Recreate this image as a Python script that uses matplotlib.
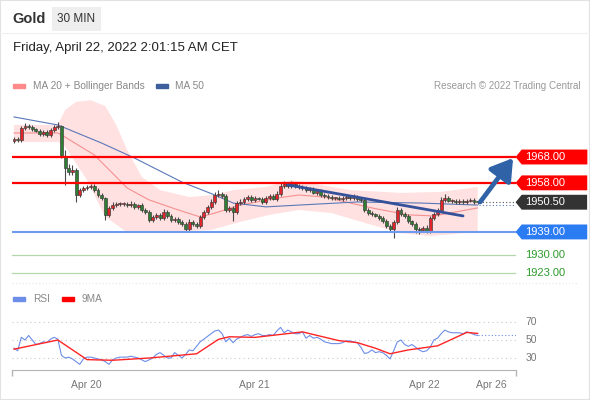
import numpy as np
import matplotlib
matplotlib.use('Agg')
import matplotlib.pyplot as plt
from matplotlib.path import Path
from matplotlib.patches import Rectangle
from matplotlib.lines import Line2D

plt.rcParams['font.family'] = ['Liberation Sans', 'DejaVu Sans']

# --- price data (30 min bars) ---
first_open = 1974.2
closes = [1975.0, 1974.6, 1979.2, 1980.0, 1979.6, 1978.8, 1978.1, 1976.9, 1977.7, 1976.5, 1978.4, 1979.6, 1980.0,
          1968.4, 1963.7, 1962.2, 1963.0, 1953.3, 1955.2, 1956.0, 1956.4, 1956.8, 1955.2, 1953.3, 1952.1,
          1945.5, 1948.3, 1949.4, 1949.8, 1949.8, 1949.8, 1949.4, 1949.8, 1948.7, 1949.4, 1947.5, 1946.7,
          1943.6, 1944.8, 1945.6, 1944.4, 1946.7, 1945.2, 1943.6, 1944.0, 1942.9, 1942.1, 1940.2, 1942.9,
          1942.1, 1941.3, 1944.8, 1946.7, 1948.7, 1950.6, 1953.3, 1953.7, 1952.9, 1947.5, 1948.3, 1946.7,
          1950.2, 1950.6, 1951.8, 1952.5, 1951.4, 1952.1, 1951.8, 1950.6, 1952.1, 1952.9, 1951.8, 1953.7,
          1956.8, 1957.6, 1956.8, 1957.6, 1956.8, 1956.4, 1956.0, 1955.2, 1955.6, 1954.1, 1954.9, 1953.3,
          1952.9, 1952.5, 1952.1, 1952.1, 1951.8, 1952.1, 1952.5, 1952.1, 1952.5, 1951.8, 1951.4, 1947.5,
          1946.3, 1945.9, 1945.2, 1944.4, 1943.2, 1941.3, 1940.2, 1942.9, 1947.5, 1945.9, 1945.2, 1943.2,
          1942.1, 1940.2, 1939.8, 1940.5, 1939.4, 1944.4, 1945.9, 1947.5, 1951.4, 1952.1, 1951.0, 1951.0,
          1950.6, 1951.0, 1950.6, 1951.0, 1951.4, 1950.6, 1950.5]
upper_wick = [0.8, 0.6, 0.9, 1.0, 0.7, 0.8, 0.6, 0.9, 0.7, 0.8, 1.0, 0.9, 1.5,
              0.5, 2.5, 1.5, 2.0, 0.8, 1.0, 0.7, 0.9, 0.6, 0.8, 0.7, 0.9,
              0.6, 0.8, 1.0, 0.7, 0.9, 0.6, 0.8, 1.2, 0.7, 0.6, 0.9, 0.8,
              0.6, 0.9, 0.7, 0.8, 1.1, 0.6, 0.7, 0.9, 0.8, 0.6, 0.7, 1.0,
              0.8, 0.6, 0.7, 0.9, 0.8, 1.0, 1.2, 1.4, 0.6, 0.9, 0.8, 0.7,
              0.9, 1.0, 0.8, 0.7, 0.9, 0.8, 0.6, 0.7, 1.0, 0.8, 0.9, 1.0,
              1.6, 1.2, 0.8, 1.0, 0.7, 0.9, 0.8, 0.6, 0.9, 0.7, 0.8, 0.6,
              0.9, 0.7, 0.8, 0.6, 0.7, 0.9, 0.8, 0.6, 1.0, 0.7, 0.8, 0.6,
              0.7, 0.9, 0.6, 0.8, 0.7, 0.9, 0.6, 0.8, 1.2, 0.9, 0.7, 0.8,
              0.6, 0.9, 0.7, 0.8, 1.0, 0.9, 0.7, 0.8, 1.1, 1.4, 0.9, 0.7,
              0.8, 0.6, 0.9, 0.7, 0.8, 0.6, 0.5]
lower_wick = [0.7, 0.9, 0.6, 0.8, 0.7, 0.9, 0.6, 0.8, 0.7, 0.6, 0.8, 0.7, 0.6,
              0.6, 6.5, 1.2, 1.0, 2.7, 0.8, 0.9, 0.7, 0.6, 0.8, 0.7, 0.9,
              1.9, 0.7, 0.8, 0.6, 0.9, 0.7, 0.8, 0.6, 0.7, 0.9, 0.8, 0.6,
              0.9, 0.7, 0.8, 0.6, 0.9, 0.7, 0.8, 0.6, 0.7, 0.9, 1.2, 0.8,
              0.7, 0.9, 0.6, 0.8, 0.7, 0.9, 0.6, 0.8, 0.7, 0.6, 0.9, 3.5,
              0.7, 0.8, 0.6, 0.9, 0.7, 0.8, 0.6, 0.7, 0.9, 0.8, 0.6, 0.7,
              0.8, 0.6, 0.9, 0.7, 0.8, 0.6, 0.7, 0.9, 0.8, 0.6, 0.7, 0.8,
              0.6, 0.9, 0.7, 0.8, 0.6, 0.7, 0.9, 0.8, 0.6, 0.7, 0.8, 0.9,
              0.7, 0.8, 0.6, 0.9, 0.7, 0.8, 1.2, 3.5, 0.9, 0.7, 0.8, 0.6,
              0.9, 1.5, 1.5, 0.8, 1.0, 0.7, 0.9, 0.6, 0.8, 0.7, 0.6, 0.8,
              0.7, 0.6, 0.8, 0.7, 0.6, 0.7, 0.5]

# indicators (sampled along the bars)
ma20_idx = [0, 12, 14, 22, 28, 31, 37, 45, 51, 55, 62, 72, 78, 85, 98, 108, 115, 127]
ma20 = [1977.3, 1977.3, 1975.7, 1968.8, 1960.3, 1956.0, 1951.4, 1947.5, 1944.8, 1946.3,
        1949.4, 1952.1, 1953.3, 1952.5, 1948.3, 1945.6, 1945.2, 1948.3]
ma50_idx = [0, 12, 24, 33, 46, 55, 60, 69, 78, 94, 111, 127]
ma50 = [1983.5, 1980.4, 1973.4, 1967.6, 1958.3, 1953.3, 1950.2, 1948.7, 1949.4, 1950.6, 1950.2, 1949.4]
bb_upper_idx = [0, 12, 14, 17, 21, 25, 28, 31, 35, 40, 48, 55, 60, 69, 76, 84, 92, 106, 117, 127]
bb_upper = [1980.4, 1980.4, 1986.2, 1989.3, 1990.0, 1987.7, 1980.4, 1970.7, 1960.3, 1955.2,
            1952.5, 1953.3, 1955.2, 1956.4, 1959.1, 1957.2, 1955.2, 1954.1, 1954.5, 1956.4]
bb_lower_idx = [0, 12, 14, 20, 25, 31, 43, 54, 62, 70, 78, 87, 98, 106, 114, 127]
bb_lower = [1973.8, 1973.8, 1972.0, 1959.1, 1944.8, 1938.9, 1939.0, 1939.8, 1942.9, 1945.6,
            1947.5, 1946.3, 1941.7, 1938.6, 1937.4, 1939.0]

trend_idx = [75, 123]
trend_price = [1957.2, 1945.2]
forecast_start = (127.7, 1950.6)
forecast_end = (136.7, 1967.6)

resistances = [1968.0, 1958.0]
pivot = 1939.0
supports = [1930.0, 1923.0]
last_price = 1950.5

# RSI panel
rsi = [41, 38, 53, 50, 55, 50, 45, 46, 48, 47, 51, 53, 51, 33, 30, 31, 29, 26, 23, 29,
       31, 31, 30, 29, 28, 26, 23, 28, 30, 31, 31, 31, 32, 31, 30, 28, 26, 28, 30, 34,
       36, 33, 30, 30, 36, 33, 30, 34, 39, 38, 43, 48, 51, 54, 57, 60, 61, 57, 48, 52,
       47, 51, 53, 55, 56, 54, 56, 57, 55, 55, 56, 55, 60, 64, 58, 61, 59, 57, 57, 59,
       52, 55, 52, 53, 51, 48, 47, 46, 46, 46, 47, 49, 49, 48, 47, 42, 35, 36, 39, 36,
       37, 36, 33, 29, 38, 48, 50, 45, 43, 45, 42, 39, 37, 38, 42, 50, 52, 57, 61, 59,
       58, 58, 58, 57, 59, 58, 56, 55]
rsi_ma_idx = [0, 12, 20, 27, 37, 50, 56, 59, 66, 79, 89, 94, 99, 103, 108, 116, 124, 127]
rsi_ma = [39.8, 50.0, 28.2, 27.5, 30.0, 34.7, 50.7, 53.6, 52.9, 59.0, 49.3, 47.1, 40.9,
          34.7, 39.0, 43.5, 58.4, 57.3]
rsi_levels = [30, 50, 70]

date_ticks = [19.7, 65.8, 112.3, 130.7]
date_labels = ['Apr 20', 'Apr 21', 'Apr 22', 'Apr 26']

W, H = 590, 400
XMIN, XMAX = -0.55, 137.5


def fx(x):
    return x / W


def fy(y):
    return 1 - y / H


def tag_box(x0, y0, width, height, mutation_size):
    # price tag with a pointed left side
    m = mutation_size
    left = x0 - 0.3 * m
    right = x0 + width + 2.0 * m
    bot = y0 - 0.22 * m
    top = y0 + height + 0.22 * m
    tip = left - 0.55 * m
    mid = (bot + top) / 2
    verts = [(tip, mid), (left, bot), (right, bot), (right, top), (left, top), (tip, mid)]
    return Path(verts, closed=True)


closes = np.array(closes)
opens = np.concatenate([[first_open], closes[:-1]])
idx = np.arange(len(closes))
highs = np.maximum(opens, closes) + np.array(upper_wick)
lows = np.minimum(opens, closes) - np.array(lower_wick)

fig = plt.figure(figsize=(W / 100, H / 100), dpi=100)
fig.patch.set_facecolor('white')

# header
fig.text(fx(12), fy(19), 'Gold', fontsize=10.5, fontweight='bold', color='#333333', va='center')
fig.text(fx(76.5), fy(19), '30 MIN', fontsize=8.5, color='#333333', va='center', ha='center',
         bbox=dict(boxstyle='square,pad=0.5', fc='#eeeeee', ec='none'))
fig.add_artist(Line2D([0, 1], [fy(33), fy(33)], color='#f0f0f0', lw=0.8))
fig.text(fx(13), fy(48), 'Friday, April 22, 2022 2:01:15 AM CET', fontsize=9.5, color='#222222', va='center')

# legend row
fig.patches.append(Rectangle((fx(13), fy(88)), 12 / W, 4.5 / H, transform=fig.transFigure, color='#ff8a8a'))
fig.text(fx(33), fy(86), 'MA 20 + Bollinger Bands', fontsize=7.3, color='#888888', va='center')
fig.patches.append(Rectangle((fx(156), fy(88)), 12 / W, 4.5 / H, transform=fig.transFigure, color='#3d5f9e'))
fig.text(fx(175), fy(86), 'MA 50', fontsize=7.3, color='#888888', va='center')
fig.text(fx(581), fy(86), 'Research \u00a9 2022 Trading Central', fontsize=7.1, color='#999999',
         va='center', ha='right')

# main price panel
ax = fig.add_axes([fx(12), fy(280), 504 / W, 185 / H])
ax.set_xlim(XMIN, XMAX)
ax.set_ylim(1920.4, 1992.0)
ax.axis('off')

band_x = list(bb_upper_idx) + list(bb_lower_idx[::-1])
band_y = list(bb_upper) + list(bb_lower[::-1])
ax.fill(band_x, band_y, color='#ffe1e1', lw=0, zorder=1)
ax.plot(ma20_idx, ma20, color='#f59090', lw=0.8, zorder=2)
ax.plot(ma50_idx, ma50, color='#5a78b8', lw=0.8, zorder=2)

ax.vlines(idx, lows, highs, color='#4a4a4a', lw=0.8, zorder=3)
body_lo = np.minimum(opens, closes)
body_h = np.maximum(np.abs(closes - opens), 0.35)
body_col = ['#e0262b' if c >= o else '#2e7d32' for o, c in zip(opens, closes)]
ax.bar(idx, body_h, bottom=body_lo, width=0.8, color=body_col, edgecolor='#3a3a3a', lw=0.45, zorder=3)

for r in resistances:
    ax.axhline(r, color='#ff0000', lw=1.6, zorder=4)
ax.axhline(pivot, color='#6d9bf0', lw=1.5, zorder=4)
for s in supports:
    ax.axhline(s, color='#b3d9ab', lw=0.9, zorder=4)

ax.plot(trend_idx, trend_price, color='#34519a', lw=2, solid_capstyle='round', zorder=5)
ax.hlines(last_price, len(closes) - 0.5, XMAX, colors='#555555', linestyles=(0, (1, 2)), lw=0.8, zorder=4)
ax.hlines(ma50[-1], len(closes) - 0.5, XMAX, colors='#5a78b8', linestyles=(0, (1, 2)), lw=0.8, zorder=4)
ax.annotate('', xy=forecast_end, xytext=forecast_start, zorder=6,
            arrowprops=dict(arrowstyle='-|>,head_length=0.8,head_width=0.5', lw=3.4,
                            color='#2f62a6', mutation_scale=16, shrinkA=0, shrinkB=0))

tags = [(resistances[0], '#ff0000'), (resistances[1], '#ff0000'), (last_price, '#333333'), (pivot, '#2b7bf3')]
for val, col in tags:
    ax.text(1.0179, val, f'{val:.2f}', transform=ax.get_yaxis_transform(), color='white', fontsize=8,
            va='center', ha='left', clip_on=False,
            bbox=dict(boxstyle=tag_box, fc=col, ec='none'))
for s in supports:
    ax.text(1.0179, s, f'{s:.2f}', transform=ax.get_yaxis_transform(), color='#2c9a2c', fontsize=8,
            va='center', ha='left', clip_on=False)

fig.add_artist(Line2D([fx(12), fx(578)], [fy(283), fy(283)], color='#e6e6e6', lw=0.8, ls=(0, (1, 2))))

# RSI legend
fig.patches.append(Rectangle((fx(13), fy(301)), 12 / W, 4.5 / H, transform=fig.transFigure, color='#6d8ee8'))
fig.text(fx(33), fy(299), 'RSI', fontsize=7.3, color='#888888', va='center')
fig.patches.append(Rectangle((fx(62), fy(301)), 12 / W, 4.5 / H, transform=fig.transFigure, color='#ff0000'))
fig.text(fx(82), fy(299), '9MA', fontsize=7.3, color='#888888', va='center')

# RSI panel
rax = fig.add_axes([fx(12), fy(370), 504 / W, 60 / H])
rax.set_xlim(XMIN, XMAX)
rax.set_ylim(16.7, 83.3)
rax.set_facecolor('none')
for side in ['left', 'right', 'top']:
    rax.spines[side].set_visible(False)
rax.spines['bottom'].set_color('#b5b5b5')
rax.set_yticks([])
rax.set_xticks(date_ticks, date_labels)
rax.tick_params(axis='x', which='major', length=0, colors='#777777', labelsize=7.5, pad=7)
rax.set_xticks([XMIN, XMAX], minor=True)
rax.tick_params(axis='x', which='minor', length=4, color='#b5b5b5', width=1)

for lvl in rsi_levels:
    rax.axhline(lvl, color='#c8c8c8', lw=0.8, ls=(0, (1, 3)))
    rax.text(1.03, lvl, str(lvl), transform=rax.get_yaxis_transform(), color='#777777', fontsize=7.5,
             va='center', ha='center', clip_on=False)
rax.plot(idx, rsi, color='#6d8ee8', lw=0.8)
rax.plot(rsi_ma_idx, rsi_ma, color='#ff2424', lw=1.0)
rax.hlines(rsi[-1], len(rsi) - 1, XMAX, colors='#6d8ee8', linestyles=(0, (1, 2)), lw=0.8)

fig.patches.append(Rectangle((0, 0), 1, 1, transform=fig.transFigure, fill=False, ec='#e2e2e2', lw=1.5))

fig.savefig('out.png', dpi=100)
